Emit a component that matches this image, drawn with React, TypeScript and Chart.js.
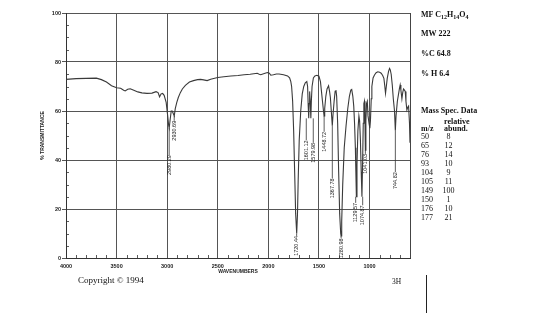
import React, { useEffect, useRef } from "react";
import { Chart, registerables } from "chart.js";

Chart.register(...registerables);

// ---- Spectrum data (wavenumber cm-1, % transmittance) ----
const wavenumbers = [
  4000, 3900, 3800, 3700, 3650, 3600, 3550, 3500, 3460, 3430, 3415, 3390, 3365, 3330, 3290, 3250, 3200, 3150, 3110, 3090,
  3075, 3060, 3045, 3030, 3010, 2995, 2985, 2980, 2972, 2960, 2950, 2940, 2930, 2920, 2905, 2890, 2870, 2850, 2820, 2780,
  2740, 2700, 2670, 2640, 2605, 2570, 2500, 2440, 2370, 2300, 2240, 2180, 2110, 2090, 2075, 2040, 2009, 1990, 1976, 1950,
  1920, 1894, 1850, 1810, 1790, 1778, 1770, 1760, 1750, 1740, 1730, 1720, 1712, 1705, 1695, 1680, 1665, 1650, 1635, 1620,
  1612, 1606, 1601, 1597, 1592, 1586, 1580, 1575, 1568, 1555, 1540, 1520, 1500, 1485, 1475, 1465, 1455, 1449, 1443, 1432,
  1420, 1405, 1395, 1387, 1378, 1368, 1360, 1350, 1340, 1332, 1325, 1315, 1305, 1295, 1285, 1281, 1275, 1265, 1250, 1232,
  1215, 1199, 1185, 1176, 1165, 1156, 1148, 1140, 1135, 1130, 1124, 1115, 1105, 1098, 1090, 1082, 1075, 1068, 1062, 1056,
  1050, 1045, 1041, 1036, 1030, 1022, 1015, 1005, 997, 991, 983, 977, 965, 951, 935, 918, 900, 885, 870, 858,
  850, 842, 834, 825, 812, 802, 795, 786, 775, 765, 753, 745, 738, 725, 713, 705, 697, 690, 680, 672,
  664, 655, 647, 640, 631, 622, 614, 605, 600,
];
const transmittance = [
  72.9, 73.2, 73.3, 73.4, 72.8, 71.8, 70.3, 69.5, 69.3, 68.5, 68.2, 68.9, 69.1, 68.5, 67.8, 67.4, 67.2, 67.3, 67.9, 67.5,
  65.8, 67.0, 67.2, 66.4, 63.5, 58, 54, 53, 56, 60, 60, 59, 58, 61, 63.5, 65.5, 67.5, 69, 70.5, 71.8,
  72.4, 72.8, 72.9, 72.7, 72.4, 73.0, 73.7, 74.0, 74.3, 74.5, 74.8, 75.0, 75.4, 75.0, 74.8, 75.3, 75.7, 75.4, 74.6, 74.8,
  75.1, 75.1, 74.8, 74.3, 73.5, 72, 70, 64, 52, 35, 18, 10, 18, 32, 48, 60, 67, 70, 71.5, 72,
  70, 62, 57, 63, 68, 64, 57, 64, 70, 73.5, 74.3, 74.6, 74.2, 72, 68, 64, 60, 58, 61, 66,
  69, 70.3, 68, 65.5, 60, 54, 59, 64, 68, 68.5, 66, 55, 35, 18, 10, 9, 15, 30, 45, 54,
  61, 66, 68.5, 68.8, 66, 62, 55, 45, 35, 25, 38, 52, 58, 56, 48, 35, 25, 40, 55, 63,
  64, 56, 44, 56, 63, 64, 58, 55, 53, 56, 65, 70, 73.5, 74.7, 75.6, 76, 75.8, 75.4, 74.5, 73.3,
  70.5, 67.2, 70, 73.3, 76.2, 77.4, 76.8, 75, 70.5, 65, 60, 52, 58, 64, 67, 69, 70.6, 68.5, 65, 67.5,
  69, 68.5, 68, 64, 60.4, 61.5, 62, 55, 47,
];

const xTickValues = [4000, 3500, 3000, 2500, 2000, 1500, 1000];
const yTickValues = [0, 20, 40, 60, 80, 100];

// ---- Peak annotations ----
const peakWavenumbers = [2980.29, 2930.69, 1720.44, 1601.12, 1579.98, 1448.72, 1367.78, 1280.98, 1129.57, 1074.87, 1041.03, 744.82];
const peakMinT = [53, 58, 10, 57, 57, 58, 54, 9, 25, 25, 44, 52];
const peakLabelTopT = [42, 56, 9, 48, 47, 51.5, 32.5, 8, 22.5, 21.5, 42.5, 35];

// ---- Side panel ----
const formulaParts = [["C", "12"], ["H", "14"], ["O", "4"]];
const molWeight = "222";
const pctC = "64.8";
const pctH = "6.4";
const msMz = [50, 65, 76, 93, 104, 105, 149, 150, 176, 177];
const msAbund = [8, 12, 14, 10, 9, 11, 100, 1, 10, 21];

const TICK_FONT = { family: "'Liberation Sans', Arial, sans-serif", size: 5.5, weight: "bold" as const };

const decorPlugin = {
  id: "irDecor",
  afterDraw(chart: any) {
    const { ctx, chartArea } = chart;
    const xs = chart.scales.x;
    const ys = chart.scales.y;
    ctx.save();
    // right border
    ctx.strokeStyle = "#444";
    ctx.lineWidth = 1;
    ctx.beginPath();
    ctx.moveTo(chartArea.right + 0.5, chartArea.top);
    ctx.lineTo(chartArea.right + 0.5, chartArea.bottom);
    ctx.stroke();
    // minor ticks (inside)
    ctx.strokeStyle = "#333";
    ctx.lineWidth = 0.8;
    ctx.beginPath();
    for (let v = 5; v < 100; v += 5) {
      if (v % 20 === 0) continue;
      const py = Math.round(ys.getPixelForValue(v)) + 0.5;
      ctx.moveTo(chartArea.left, py);
      ctx.lineTo(chartArea.left + 3, py);
    }
    for (let v = 3900; v >= 700; v -= 100) {
      if (v % 500 === 0) continue;
      const px = Math.round(xs.getPixelForValue(v)) + 0.5;
      ctx.moveTo(px, chartArea.bottom);
      ctx.lineTo(px, chartArea.bottom - 3);
    }
    ctx.stroke();

    // peak labels
    ctx.font = "5.5px 'Liberation Sans', Arial, sans-serif";
    const items = peakWavenumbers.map((w, i) => {
      const label = w.toFixed(2);
      return {
        label,
        px: xs.getPixelForValue(w),
        yMin: ys.getPixelForValue(peakMinT[i]),
        yTop: ys.getPixelForValue(peakLabelTopT[i]),
        len: ctx.measureText(label).width,
      };
    });
    // separate horizontally-overlapping labels
    const sorted = [...items].sort((a, b) => a.px - b.px);
    for (let i = 1; i < sorted.length; i++) {
      const a = sorted[i - 1];
      const b = sorted[i];
      const vOverlap = !(a.yTop + a.len < b.yTop || b.yTop + b.len < a.yTop);
      if (vOverlap && b.px - a.px < 7) {
        const mid = (a.px + b.px) / 2;
        a.px = mid - 3.5;
        b.px = mid + 3.5;
      }
    }
    ctx.strokeStyle = "#333";
    ctx.lineWidth = 0.8;
    ctx.fillStyle = "#1a1a1a";
    items.forEach((it) => {
      ctx.beginPath();
      ctx.moveTo(it.px, it.yMin);
      ctx.lineTo(it.px, it.yTop);
      ctx.stroke();
      ctx.save();
      ctx.translate(it.px, it.yTop);
      ctx.rotate(-Math.PI / 2);
      ctx.textAlign = "right";
      ctx.textBaseline = "middle";
      ctx.fillText(it.label, 0, 0);
      ctx.restore();
    });
    ctx.restore();
  },
};

export default function App() {
  const canvasRef = useRef<HTMLCanvasElement | null>(null);

  useEffect(() => {
    if (!canvasRef.current) return;
    const points = wavenumbers.map((w, i) => ({ x: w, y: transmittance[i] }));
    const chart = new Chart(canvasRef.current, {
      type: "line",
      data: {
        datasets: [
          {
            data: points,
            borderColor: "#3a3a3a",
            borderWidth: 1.1,
            pointRadius: 0,
            tension: 0,
            fill: false,
          },
        ],
      },
      options: {
        responsive: false,
        animation: false,
        devicePixelRatio: 1,
        layout: { padding: { top: 13, right: 150, left: 0, bottom: 0 } },
        plugins: { legend: { display: false }, tooltip: { enabled: false } },
        scales: {
          x: {
            type: "linear",
            reverse: true,
            min: 600,
            max: 4000,
            afterBuildTicks: (s: any) => {
              s.ticks = xTickValues.map((v) => ({ value: v }));
            },
            afterFit: (s: any) => {
              s.height = 57;
            },
            grid: { color: "#555", lineWidth: 1, drawTicks: false },
            border: { display: true, color: "#333", width: 1 },
            ticks: {
              font: TICK_FONT,
              color: "#222",
              padding: 5,
              maxRotation: 0,
              autoSkip: false,
              callback: (v: any) => String(v),
            },
            title: {
              display: true,
              text: "WAVENUMBERS",
              color: "#222",
              font: { family: "'Liberation Sans', Arial, sans-serif", size: 5, weight: "bold" },
              padding: { top: 0, bottom: 40 },
            },
          },
          y: {
            type: "linear",
            min: 0,
            max: 100,
            afterBuildTicks: (s: any) => {
              s.ticks = yTickValues.map((v) => ({ value: v }));
            },
            afterFit: (s: any) => {
              s.width = 66;
            },
            grid: { color: "#555", lineWidth: 1, drawTicks: true, tickLength: 4 },
            border: { display: true, color: "#333", width: 1 },
            ticks: {
              font: TICK_FONT,
              color: "#222",
              padding: 1,
              callback: (v: any) => String(v),
            },
            title: {
              display: true,
              text: "% TRANSMITTANCE",
              color: "#222",
              font: { family: "'Liberation Sans', Arial, sans-serif", size: 5, weight: "bold" },
              padding: { top: 40, bottom: 0 },
            },
          },
        },
      },
      plugins: [decorPlugin],
    });
    return () => chart.destroy();
  }, []);

  const serif = "'Liberation Serif', 'Times New Roman', serif";
  const line = (top: number, left: number, content: React.ReactNode, extra: React.CSSProperties = {}) => (
    <div
      style={{
        position: "absolute",
        top,
        left,
        fontFamily: serif,
        fontSize: 8,
        lineHeight: "9px",
        fontWeight: "bold",
        color: "#111",
        whiteSpace: "nowrap",
        ...extra,
      }}
    >
      {content}
    </div>
  );

  return (
    <div style={{ position: "absolute", left: 0, top: 0, width: 560, height: 315, background: "#fff", overflow: "hidden" }}>
      <canvas ref={canvasRef} width={560} height={315} style={{ display: "block", position: "absolute", left: 0, top: 0 }} />
      {line(
        10,
        421,
        <span>
          MF{" "}
          {formulaParts.map(([el, n]) => (
            <span key={el}>
              {el}
              <sub style={{ fontSize: 6, verticalAlign: "-2px" }}>{n}</sub>
            </span>
          ))}
        </span>
      )}
      {line(28.5, 421, `MW ${molWeight}`)}
      {line(48.5, 421, `%C ${pctC}`)}
      {line(68.5, 421, `% H ${pctH}`)}
      {line(106, 421, "Mass Spec. Data")}
      {line(116.5, 444, "relative")}
      {line(124, 421, "m/z")}
      {line(124, 444, "abund.")}
      {msMz.map((m, i) => (
        <React.Fragment key={m}>
          {line(132 + i * 9, 421, String(m), { fontWeight: "normal" })}
          {line(132 + i * 9, 440, String(msAbund[i]), { fontWeight: "normal", width: 17, textAlign: "center" })}
        </React.Fragment>
      ))}
      {line(275, 78, "Copyright \u00A9 1994", { fontSize: 9, fontWeight: "normal", lineHeight: "10px" })}
      {line(277, 392, "3H", { fontSize: 7.5, fontWeight: "normal", lineHeight: "10px" })}
      <div style={{ position: "absolute", left: 426, top: 275, width: 1, height: 38, background: "#222" }} />
    </div>
  );
}
